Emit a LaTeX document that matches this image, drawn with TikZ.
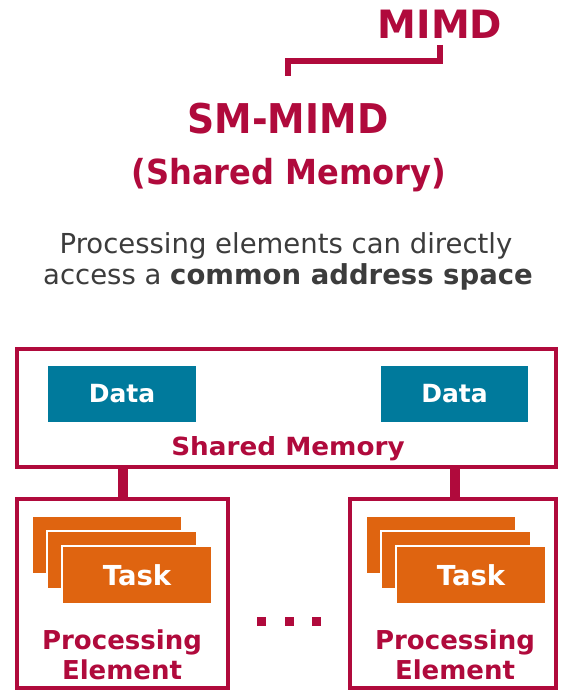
\documentclass[tikz,border=0pt]{standalone}
\usepackage{graphicx}
\usepackage{fontspec}
\setmainfont{DejaVu Sans}
\definecolor{crim}{HTML}{B00A3C}
\definecolor{tealc}{HTML}{007A9C}
\definecolor{orng}{HTML}{DF6410}
\definecolor{grayt}{HTML}{3C3C3C}
\begin{document}
\begin{tikzpicture}[x=1pt,y=-1pt,
  title/.style={anchor=base, inner sep=0pt, text=crim, font=\fontsize{#1}{#1}\selectfont\bfseries},
  body/.style={anchor=base, inner sep=0pt, text=grayt, font=\fontsize{27.5}{27.5}\selectfont},
  framebox/.style={draw=crim, line width=4pt, inner sep=0pt},
  databox/.style={fill=tealc, inner sep=0pt, minimum width=148pt, minimum height=56pt, text=white, font=\fontsize{25}{25}\selectfont\bfseries},
  taskbox/.style={fill=orng, draw=white, line width=2.5pt, inner sep=0pt, minimum width=150.5pt, minimum height=58.5pt, text=white, font=\fontsize{27.5}{27.5}\selectfont\bfseries},
  conn/.style={draw=crim, line width=10pt},
  bracket/.style={draw=crim, line width=6pt},
  dot/.style={fill=crim, inner sep=0pt, minimum size=9.5pt},
  pelabel/.style={anchor=base, inner sep=0pt, text=crim, font=\fontsize{26}{26}\selectfont\bfseries},
]
\useasboundingbox (0,0) rectangle (560,693);
\fill[white] (0,0) rectangle (560,693);

% titles
\node[title=39] (mimd) at (440,38) {MIMD};
\node[title=41] (smmimd) at (288,133) {\scalebox{0.92}[1]{SM-MIMD}};
\node[title=34.5] (shm) at (289,184) {\scalebox{0.93}[1]{(Shared Memory)}};
\coordinate (brtop) at (440,45);
\coordinate (brbot) at (288,76);
\draw[bracket] (brtop) |- (brbot |- 0,61) -- (brbot);

\node[body] (l1) at (286,253) {Processing elements can directly};
\node[body] (l2) at (288,284) {access a \textbf{common address space}};

% connectors (under boxes)
\coordinate (c1t) at (122.5,467);
\coordinate (c1b) at (122.5,499);
\coordinate (c2t) at (455,467);
\coordinate (c2b) at (455,499);

% shared memory box
\node[framebox, minimum width=539pt, minimum height=118pt] (mem) at (286.5,408) {};
\node[databox] (d1) at (122,394) {Data};
\node[databox, minimum width=147pt] (d2) at (454.5,394) {Data};
\node[title=25] (memlbl) at (288,455) {\scalebox{1.05}[1]{Shared Memory}};

% processing elements
\node[framebox, minimum width=211pt, minimum height=189pt] (pe1) at (122.5,593.5) {};
\node[framebox, minimum width=206pt, minimum height=189pt] (pe2) at (453,593.5) {};
\draw[conn] (c1t) -- (c1b);
\draw[conn] (c2t) -- (c2b);

\node[taskbox] (t1a) at (107,545) {};
\node[taskbox] (t1b) at (122,560) {};
\node[taskbox] (t1c) at (137,575) {Task};
\node[taskbox] (t2a) at (441,545) {};
\node[taskbox] (t2b) at (456,560) {};
\node[taskbox] (t2c) at (471,575) {Task};

\node[pelabel] (pe1l1) at (122,649) {Processing};
\node[pelabel] (pe1l2) at (122,679) {Element};
\node[pelabel] (pe2l1) at (455,649) {Processing};
\node[pelabel] (pe2l2) at (455,679) {Element};

\node[dot] (dt1) at (261.5,621.5) {};
\node[dot] (dt2) at (289.5,621.5) {};
\node[dot] (dt3) at (316.5,621.5) {};
\end{tikzpicture}
\end{document}
